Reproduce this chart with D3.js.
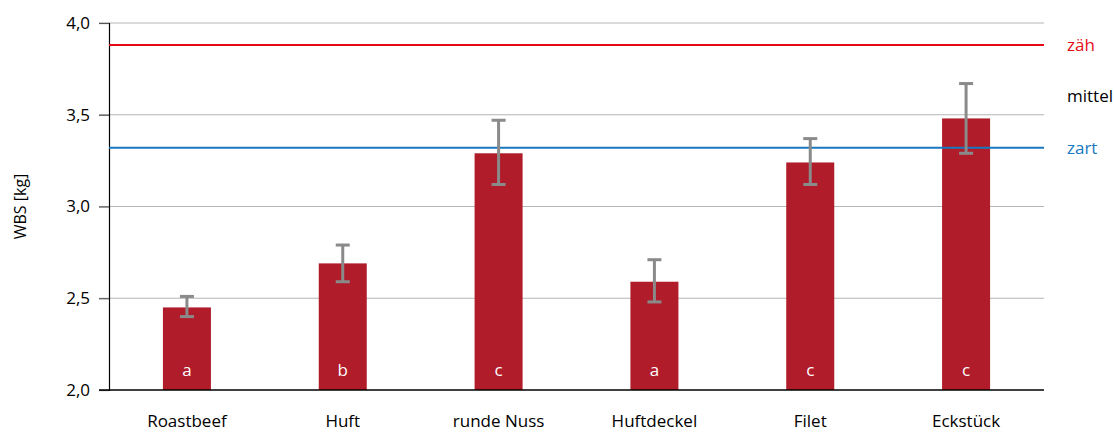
<!DOCTYPE html>
<html>
<head>
<meta charset="utf-8">
<script src="https://cdn.jsdelivr.net/npm/d3@7"></script>
<style>
  body { margin: 0; background: #fff; }
  text { font-family: "Open Sans", sans-serif; }
</style>
</head>
<body>
<script>
var width = 1114;
var height = 432;

// data
var categories = ['Roastbeef', 'Huft', 'runde Nuss', 'Huftdeckel', 'Filet', 'Eckstück'];
var means = [2.45, 2.69, 3.29, 2.59, 3.24, 3.48];
var errLow = [2.40, 2.59, 3.12, 2.48, 3.12, 3.29];
var errHigh = [2.51, 2.79, 3.47, 2.71, 3.37, 3.67];
var letters = ['a', 'b', 'c', 'a', 'c', 'c'];
var yTicks = [2.0, 2.5, 3.0, 3.5, 4.0];
var thresholds = [
  { name: 'zäh', value: 3.88, color: '#e30a17' },
  { name: 'zart', value: 3.32, color: '#1878bf' }
];
var middleLabel = { name: 'mittel', value: 3.6 };

var margin = { left: 109, right: 70, top: 23, bottom: 42 };

var svg = d3.select('body').append('svg')
  .attr('width', width)
  .attr('height', height);

var x = d3.scaleBand()
  .domain(categories)
  .range([margin.left, width - margin.right]);

var y = d3.scaleLinear()
  .domain([2, 4])
  .range([height - margin.bottom, margin.top]);

var barW = 48;

// gridlines
svg.selectAll('.grid').data(yTicks.slice(1)).enter().append('line')
  .attr('x1', margin.left - 10)
  .attr('x2', width - margin.right)
  .attr('y1', function(d){ return y(d); })
  .attr('y2', function(d){ return y(d); })
  .attr('stroke', '#b5b5b5')
  .attr('stroke-width', 1.2);

// y axis
var yAxis = d3.axisLeft(y)
  .tickValues(yTicks)
  .tickSize(10)
  .tickFormat(function(d){ return d3.format('.1f')(d).replace('.', ','); });

var gy = svg.append('g')
  .attr('transform', 'translate(' + margin.left + ',0)')
  .call(yAxis);
gy.select('.domain').attr('stroke', '#000').attr('stroke-width', 1.2);
gy.selectAll('.tick line').attr('stroke', '#555').attr('stroke-width', 1.2);
gy.selectAll('.tick text')
  .attr('font-size', 17)
  .attr('fill', '#000')
  .attr('x', -19)
  .style('font-family', '"Open Sans", sans-serif');

// bars
svg.selectAll('.bar').data(means).enter().append('rect')
  .attr('x', function(d, i){ return x(categories[i]) + x.bandwidth() / 2 - barW / 2; })
  .attr('y', function(d){ return y(d); })
  .attr('width', barW)
  .attr('height', function(d){ return y(2) - y(d); })
  .attr('fill', '#b01c2a');

// threshold lines
svg.selectAll('.thr').data(thresholds).enter().append('line')
  .attr('x1', margin.left)
  .attr('x2', width - margin.right)
  .attr('y1', function(d){ return y(d.value); })
  .attr('y2', function(d){ return y(d.value); })
  .attr('stroke', function(d){ return d.color; })
  .attr('stroke-width', 2);

svg.selectAll('.thrLabel').data(thresholds).enter().append('text')
  .attr('x', 1067)
  .attr('y', function(d){ return y(d.value) + 6; })
  .attr('fill', function(d){ return d.color; })
  .attr('font-size', 17)
  .text(function(d){ return d.name; });

svg.append('text')
  .attr('x', 1067)
  .attr('y', y(middleLabel.value) + 6)
  .attr('fill', '#000')
  .attr('font-size', 17)
  .text(middleLabel.name);

// error bars
var errG = svg.selectAll('.err').data(means).enter().append('g')
  .attr('transform', function(d, i){ return 'translate(' + (x(categories[i]) + x.bandwidth() / 2) + ',0)'; });
errG.append('line')
  .attr('y1', function(d, i){ return y(errLow[i]); })
  .attr('y2', function(d, i){ return y(errHigh[i]); })
  .attr('stroke', '#8a8a8a').attr('stroke-width', 3);
errG.append('line')
  .attr('x1', -7).attr('x2', 7)
  .attr('y1', function(d, i){ return y(errLow[i]); })
  .attr('y2', function(d, i){ return y(errLow[i]); })
  .attr('stroke', '#8a8a8a').attr('stroke-width', 3);
errG.append('line')
  .attr('x1', -7).attr('x2', 7)
  .attr('y1', function(d, i){ return y(errHigh[i]); })
  .attr('y2', function(d, i){ return y(errHigh[i]); })
  .attr('stroke', '#8a8a8a').attr('stroke-width', 3);

// letters inside bars
svg.selectAll('.letter').data(letters).enter().append('text')
  .attr('x', function(d, i){ return x(categories[i]) + x.bandwidth() / 2; })
  .attr('y', y(2) - 14)
  .attr('text-anchor', 'middle')
  .attr('fill', '#fff')
  .attr('font-size', 17)
  .text(function(d){ return d; });

// x axis line
svg.append('line')
  .attr('x1', margin.left - 10)
  .attr('x2', width - margin.right)
  .attr('y1', y(2))
  .attr('y2', y(2))
  .attr('stroke', '#000')
  .attr('stroke-width', 1.5);

// category labels
svg.selectAll('.cat').data(categories).enter().append('text')
  .attr('x', function(d){ return x(d) + x.bandwidth() / 2; })
  .attr('y', 427)
  .attr('text-anchor', 'middle')
  .attr('fill', '#000')
  .attr('font-size', 17)
  .text(function(d){ return d; });

// y axis title
svg.append('text')
  .attr('transform', 'translate(26,' + ((y(2) + y(4)) / 2) + ') rotate(-90)')
  .attr('text-anchor', 'middle')
  .attr('fill', '#000')
  .attr('font-size', 16)
  .text('WBS [kg]');
</script>
</body>
</html>
